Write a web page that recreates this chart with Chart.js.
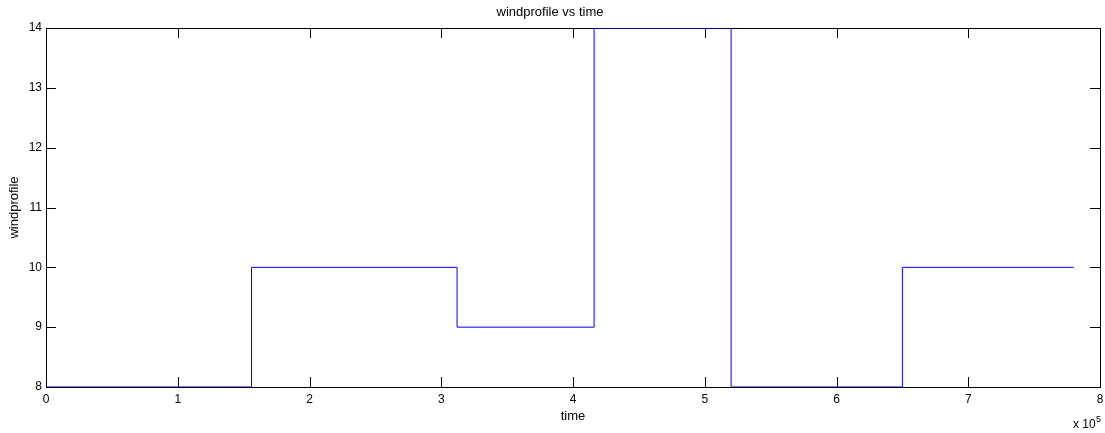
<!DOCTYPE html>
<html>
<head>
<meta charset="utf-8">
<script src="https://cdn.jsdelivr.net/npm/chart.js@4/dist/chart.umd.min.js"></script>
<style>
  body { margin: 0; background: #fff; }
  #wrap { width: 1105px; height: 433px; }
</style>
</head>
<body>
<div id="wrap"><canvas id="WindChart" width="1105" height="433"></canvas></div>
<script>
// step points: value holds until the next time
let Times = [0, 156000, 312000, 416000, 520000, 650000, 780000];
let WindProfile = [8, 10, 9, 14, 8, 10, 10];
let XTicksScale = 100000;

const black = "#000000";
const blue = "#0000ff";
const family = "'Liberation Sans', Arial, sans-serif";
const tickFont = {family: family, size: 12};
const labelFont = {family: family, size: 13};

// matlab style box with inward ticks on every side
const boxPlugin = {
    id: "box",
    beforeDatasetsDraw(chart) {
        const ctx = chart.ctx;
        const a = chart.chartArea;
        const x = chart.scales.x;
        const y = chart.scales.y;
        ctx.save();
        ctx.strokeStyle = black;
        ctx.lineWidth = 1;
        ctx.strokeRect(a.left + 0.5, a.top + 0.5, a.right - a.left, a.bottom - a.top);
        ctx.beginPath();
        x.ticks.forEach(t => {
            const px = Math.round(x.getPixelForValue(t.value)) + 0.5;
            ctx.moveTo(px, a.bottom); ctx.lineTo(px, a.bottom - 10);
            ctx.moveTo(px, a.top); ctx.lineTo(px, a.top + 10);
        });
        y.ticks.forEach(t => {
            const py = Math.round(y.getPixelForValue(t.value)) + 0.5;
            ctx.moveTo(a.left, py); ctx.lineTo(a.left + 10, py);
            ctx.moveTo(a.right, py); ctx.lineTo(a.right - 10, py);
        });
        ctx.stroke();
        ctx.restore();
    },
    afterDraw(chart) {
        const ctx = chart.ctx;
        ctx.save();
        ctx.fillStyle = black;
        ctx.textBaseline = "alphabetic";
        ctx.font = "12px " + family;
        ctx.fillText("x 10", 1073, 428);
        ctx.font = "9px " + family;
        ctx.fillText("5", 1096, 422);
        ctx.restore();
    }
};

new Chart("WindChart", {
    type: "line",
    data: {
        datasets: [{
            data: Times.map((t, i) => ({x: t, y: WindProfile[i]})),
            borderColor: blue,
            borderWidth: 1,
            pointRadius: 0,
            stepped: "before",
            fill: false
        }]
    },
    options: {
        responsive: false,
        animation: false,
        layout: {padding: {left: 0, right: 5, top: 0, bottom: 0}},
        plugins: {
            legend: {display: false},
            tooltip: {enabled: false},
            title: {
                display: true,
                text: "windprofile vs time",
                color: black,
                font: {family: family, size: 13, weight: "normal"},
                padding: {top: 5, bottom: 7.4}
            }
        },
        scales: {
            x: {
                type: "linear",
                min: 0,
                max: 800000,
                grid: {display: false, tickLength: 0},
                border: {display: false},
                ticks: {
                    stepSize: XTicksScale,
                    color: black,
                    font: tickFont,
                    padding: 5,
                    maxRotation: 0,
                    callback: v => v / XTicksScale
                },
                title: {
                    display: true,
                    text: "time",
                    color: black,
                    font: labelFont,
                    padding: {top: 0, bottom: 9}
                },
                afterFit(scale) {
                    scale.height = 46;
                    scale.paddingLeft = 0;
                    scale.paddingRight = 0;
                }
            },
            y: {
                min: 8,
                max: 14,
                grid: {display: false, tickLength: 0},
                border: {display: false},
                ticks: {
                    stepSize: 1,
                    color: black,
                    font: tickFont,
                    padding: 4
                },
                title: {
                    display: true,
                    text: "windprofile",
                    color: black,
                    font: labelFont,
                    padding: {top: 7, bottom: 0}
                },
                afterFit(scale) {
                    scale.width = 46;
                    scale.paddingTop = 0;
                    scale.paddingBottom = 0;
                }
            }
        }
    },
    plugins: [boxPlugin]
});
</script>
</body>
</html>
